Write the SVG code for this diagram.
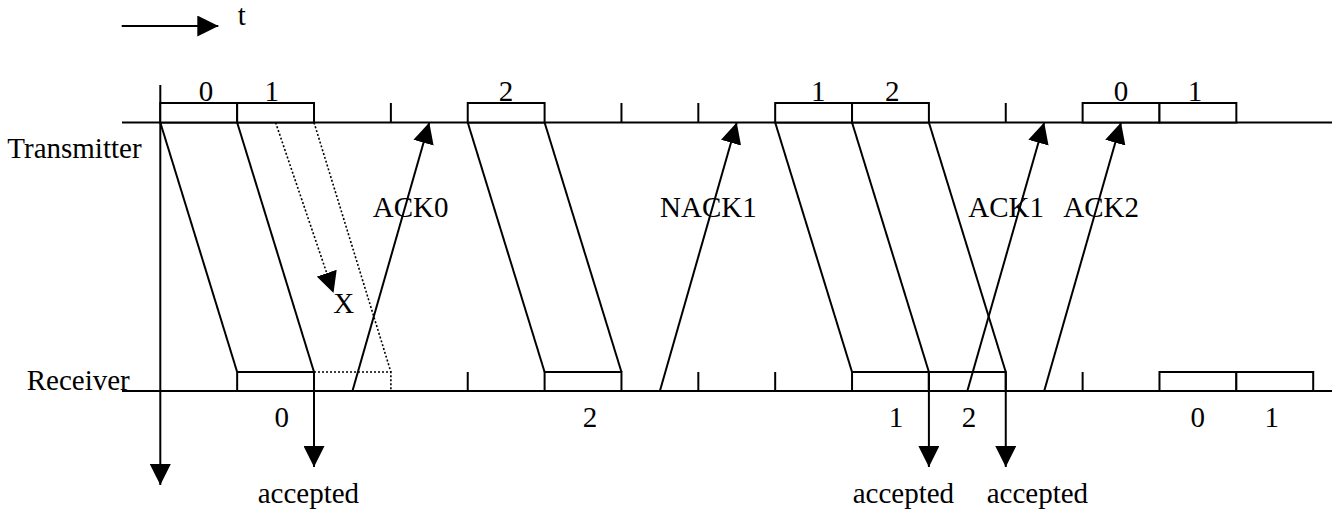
<svg xmlns="http://www.w3.org/2000/svg" width="1334" height="514" viewBox="0 0 1334 514">
<style>
.ln{stroke:#000;stroke-width:2;fill:none}
.dot{stroke:#000;stroke-width:1.6;fill:none;stroke-dasharray:2,2}
.box{stroke:#000;stroke-width:2;fill:#fff}
.dbox{stroke:#000;stroke-width:1.6;fill:none;stroke-dasharray:2,2}
text{font-family:"Liberation Serif","Times New Roman",serif;font-size:29px;fill:#000}
.c{text-anchor:middle}
</style>
<defs>
<marker id="ah" markerUnits="userSpaceOnUse" markerWidth="21" markerHeight="21" viewBox="0 0 21 21" refX="21" refY="10.5" orient="auto">
<path d="M0,0 L21,10.5 L0,21 z" fill="#000"/>
</marker>
</defs>
<rect width="1334" height="514" fill="#fff"/>

<g id="time-legend">
<line class="ln" x1="121.7" y1="26" x2="218.3" y2="26" marker-end="url(#ah)"/>
<text x="237.7" y="25">t</text>
</g>

<g id="transmitter">
<text x="7.3" y="158.3">Transmitter</text>
<line class="ln" x1="122" y1="122.5" x2="1332" y2="122.5"/>
<line class="ln" x1="390.88" y1="103" x2="390.88" y2="122.5"/>
<line class="ln" x1="621.46" y1="103" x2="621.46" y2="122.5"/>
<line class="ln" x1="698.32" y1="103" x2="698.32" y2="122.5"/>
<line class="ln" x1="1005.76" y1="103" x2="1005.76" y2="122.5"/>
</g>

<g id="receiver">
<text x="26.7" y="390">Receiver</text>
<line class="ln" x1="122" y1="391" x2="1332" y2="391"/>
<line class="ln" x1="467.74" y1="372" x2="467.74" y2="391"/>
<line class="ln" x1="698.32" y1="372" x2="698.32" y2="391"/>
<line class="ln" x1="775.18" y1="372" x2="775.18" y2="391"/>
<line class="ln" x1="1082.62" y1="372" x2="1082.62" y2="391"/>
</g>

<g id="time-axis">
<line class="ln" x1="160.3" y1="85" x2="160.3" y2="485" marker-end="url(#ah)"/>
</g>

<g id="tx-frames">
<rect class="box" x="160.3" y="103" width="76.86" height="19.5"/>
<rect class="box" x="237.16" y="103" width="76.86" height="19.5"/>
<rect class="box" x="467.74" y="103" width="76.86" height="19.5"/>
<rect class="box" x="775.18" y="103" width="76.86" height="19.5"/>
<rect class="box" x="852.04" y="103" width="76.86" height="19.5"/>
<rect class="box" x="1082.62" y="103" width="76.86" height="19.5"/>
<rect class="box" x="1159.48" y="103" width="76.86" height="19.5"/>
<text class="c" x="206" y="101">0</text>
<text class="c" x="271.7" y="101">1</text>
<text class="c" x="506" y="101">2</text>
<text class="c" x="818.3" y="101">1</text>
<text class="c" x="892.3" y="101">2</text>
<text class="c" x="1121" y="101">0</text>
<text class="c" x="1195" y="101">1</text>
</g>

<g id="rx-frames">
<rect class="box" x="237.16" y="372" width="76.86" height="19"/>
<rect class="dbox" x="314.02" y="372" width="76.86" height="19"/>
<rect class="box" x="544.6" y="372" width="76.86" height="19"/>
<rect class="box" x="852.04" y="372" width="76.86" height="19"/>
<rect class="box" x="928.9" y="372" width="76.86" height="19"/>
<rect class="box" x="1159.48" y="372" width="76.86" height="19"/>
<rect class="box" x="1236.34" y="372" width="76.86" height="19"/>
<text class="c" x="281.7" y="427">0</text>
<text class="c" x="590" y="427">2</text>
<text class="c" x="896" y="427">1</text>
<text class="c" x="969" y="427">2</text>
<text class="c" x="1197.7" y="427">0</text>
<text class="c" x="1271.7" y="427">1</text>
</g>

<g id="connectors">
<line class="ln" x1="160.3" y1="122.5" x2="237.16" y2="372"/>
<line class="ln" x1="237.16" y1="122.5" x2="314.02" y2="372"/>
<line class="dot" x1="314.02" y1="122.5" x2="390.88" y2="372"/>
<line class="dot" x1="275.6" y1="122.5" x2="333.5" y2="293" marker-end="url(#ah)"/>
<line class="ln" x1="467.74" y1="122.5" x2="544.6" y2="372"/>
<line class="ln" x1="544.6" y1="122.5" x2="621.46" y2="372"/>
<line class="ln" x1="775.18" y1="122.5" x2="852.04" y2="372"/>
<line class="ln" x1="852.04" y1="122.5" x2="928.9" y2="372"/>
<line class="ln" x1="928.9" y1="122.5" x2="1005.76" y2="372"/>
<line class="ln" x1="352.45" y1="391" x2="429.31" y2="122.5" marker-end="url(#ah)"/>
<line class="ln" x1="659.89" y1="391" x2="736.75" y2="122.5" marker-end="url(#ah)"/>
<line class="ln" x1="967.33" y1="391" x2="1044.19" y2="122.5" marker-end="url(#ah)"/>
<line class="ln" x1="1044.19" y1="391" x2="1121.05" y2="122.5" marker-end="url(#ah)"/>
<line class="ln" x1="314.02" y1="372" x2="314.02" y2="467" marker-end="url(#ah)"/>
<line class="ln" x1="928.9" y1="372" x2="928.9" y2="467" marker-end="url(#ah)"/>
<line class="ln" x1="1005.76" y1="372" x2="1005.76" y2="467" marker-end="url(#ah)"/>
</g>

<g id="labels">
<text x="372.7" y="216.5">ACK0</text>
<text x="660" y="216.5">NACK1</text>
<text x="968.3" y="216.5">ACK1</text>
<text x="1063.3" y="216.5">ACK2</text>
<text x="333.3" y="312.7">X</text>
<text x="257.7" y="503">accepted</text>
<text x="852.7" y="503">accepted</text>
<text x="986.7" y="503">accepted</text>
</g>
</svg>
